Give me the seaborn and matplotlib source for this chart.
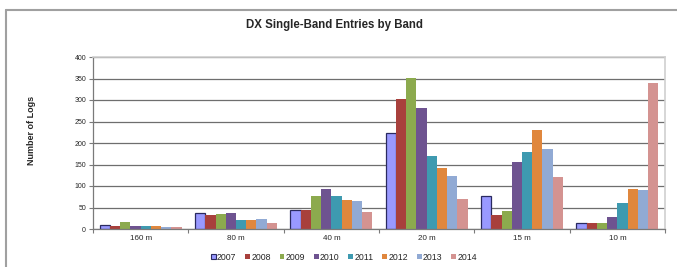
import matplotlib.pyplot as plt
import matplotlib.lines as mlines
import seaborn as sns
import numpy as np
import pandas as pd

# Band categories and yearly log counts
bands = ['160 m', '80 m', '40 m', '20 m', '15 m', '10 m']
years = ['2007', '2008', '2009', '2010', '2011', '2012', '2013', '2014']
counts = {
    '2007': [9, 37, 45, 224, 76, 14],
    '2008': [8, 32, 45, 303, 32, 15],
    '2009': [16, 36, 76, 351, 41, 13],
    '2010': [8, 37, 94, 281, 155, 28],
    '2011': [6, 22, 77, 170, 180, 60],
    '2012': [8, 20, 68, 143, 231, 94],
    '2013': [5, 24, 64, 124, 187, 91],
    '2014': [5, 13, 39, 70, 120, 340],
}
colors = ['#9999FF', '#A8403C', '#8CAA4E', '#6E5390', '#3E9AB0',
          '#E0873D', '#91AAD4', '#D49391']

df = pd.DataFrame({
    'Band': bands * len(years),
    'Logs': [v for y in years for v in counts[y]],
    'Year': [y for y in years for _ in bands],
})

sns.set_theme(style="white")
plt.rcParams['font.family'] = ['Liberation Sans', 'DejaVu Sans']

fig = plt.figure(figsize=(6.77, 2.67), dpi=100)
ax = fig.add_axes([93 / 677, 1 - 229 / 267, (665 - 93) / 677, (229 - 57) / 267])

sns.barplot(data=df, x='Band', y='Logs', hue='Year', palette=colors,
            width=0.86, gap=0, ax=ax, legend=True, saturation=1,
            edgecolor='none', linewidth=0)

# 2007 bars carry a dark outline
for p in ax.containers[0]:
    p.set_edgecolor('#2A2A60')
    p.set_linewidth(0.9)

ax.set_ylim(0, 400)
ax.set_xlim(-0.5, len(bands) - 0.5)
ax.set_yticks(np.arange(0, 401, 50))
ax.yaxis.grid(True, color='#6E6E6E', linewidth=0.9)
ax.set_axisbelow(True)
ax.tick_params(axis='y', labelsize=5, length=3, width=0.8, color='#7A7A7A',
               left=True, pad=2)
ax.set_xticks(np.arange(-0.5, len(bands), 1), minor=True)
ax.tick_params(axis='x', which='major', length=0, labelsize=5.8, pad=4)
ax.tick_params(axis='x', which='minor', length=3, width=0.8,
               color='#7A7A7A', bottom=True)

for s in ['top', 'right']:
    ax.spines[s].set_color('#D0D0D0')
    ax.spines[s].set_linewidth(1.2)
for s in ['left', 'bottom']:
    ax.spines[s].set_color('#7A7A7A')
    ax.spines[s].set_linewidth(0.9)

ax.set_xlabel('')
ax.set_ylabel('')
fig.text(32 / 677, 1 - 130 / 267, 'Number of Logs', rotation=90,
         fontsize=6.5, fontweight='bold', ha='center', va='center')
fig.text(334 / 677, 1 - 25 / 267, 'DX Single-Band Entries by Band',
         fontsize=8.3, fontweight='bold', ha='center', va='center')

handles, labels = ax.get_legend_handles_labels()
ax.get_legend().remove()
for h in handles:
    h.set_linewidth(0)
handles[0].set_edgecolor('#2A2A60')
handles[0].set_linewidth(0.8)
fig.legend(handles, labels, loc='center', bbox_to_anchor=(344 / 677, 1 - 257 / 267),
           ncol=8, frameon=False, fontsize=6.3, handlelength=0.55,
           handleheight=0.55, handletextpad=0.15, columnspacing=1.0)

# outer chart frame (only left and top are in view)
fig.add_artist(mlines.Line2D([6 / 677, 6 / 677], [0, 1 - 10 / 267],
                             transform=fig.transFigure, color='#A0A0A0', linewidth=1.5))
fig.add_artist(mlines.Line2D([6 / 677, 1], [1 - 10 / 267, 1 - 10 / 267],
                             transform=fig.transFigure, color='#A0A0A0', linewidth=1.5))

fig.savefig('out.png', dpi=100)
